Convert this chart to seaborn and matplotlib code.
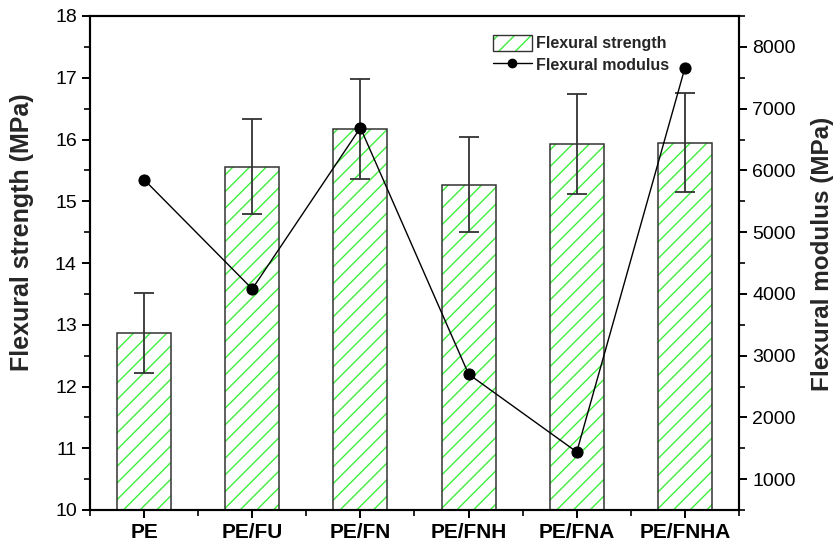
import numpy as np
import pandas as pd
import matplotlib
matplotlib.use("Agg")
import matplotlib.pyplot as plt
from matplotlib.ticker import FixedLocator, MultipleLocator
from matplotlib.patches import Patch
from matplotlib.lines import Line2D
import seaborn as sns

# Sample groups
samples = ["PE", "PE/FU", "PE/FN", "PE/FNH", "PE/FNA", "PE/FNHA"]

# Flexural strength (MPa) with standard deviation
strength = [12.87, 15.56, 16.17, 15.27, 15.93, 15.95]
strength_err = [0.65, 0.77, 0.81, 0.77, 0.81, 0.80]

# Flexural modulus (MPa)
modulus = [5850, 4080, 6690, 2700, 1440, 7660]

sns.set_theme(style="ticks")
plt.rcParams["font.family"] = ["Liberation Sans", "DejaVu Sans"]
plt.rcParams["hatch.linewidth"] = 1.0

fig = plt.figure(figsize=(8.4, 5.45), dpi=100)
ax = fig.add_axes([90 / 840, 1 - 510 / 545, 649 / 840, 494 / 545])

df = pd.DataFrame({"sample": samples, "strength": strength, "err": strength_err,
                   "modulus": modulus})
pos = np.arange(len(samples))

green = "#3cf03c"
outline = "#333333"

# hatched fill
sns.barplot(data=df, x="sample", y="strength", order=samples, color="white",
            edgecolor=green, linewidth=0, hatch="//", width=0.5,
            errorbar=None, ax=ax, zorder=2)
# outlines
ax.bar(pos, df["strength"], width=0.5, fill=False, edgecolor=outline,
       linewidth=1.1, zorder=3)
ax.errorbar(pos, df["strength"], yerr=df["err"], fmt="none", ecolor=outline,
            elinewidth=1.3, capsize=7, capthick=1.3, zorder=4)

ax.set_xlim(-0.5, 5.5)
ax.set_ylim(10, 18)
ax.set_xlabel("")
ax.set_ylabel("Flexural strength (MPa)", fontsize=18, fontweight="bold")
ax.yaxis.set_label_coords(-0.105, 0.563)
ax.yaxis.label.set_va("center")
ax.yaxis.set_major_locator(MultipleLocator(1))
ax.yaxis.set_minor_locator(MultipleLocator(0.5))
ax.xaxis.set_minor_locator(FixedLocator(np.arange(-0.5, 6.0, 1.0)))
ax.tick_params(axis="y", which="major", direction="out", length=6, width=1.4,
               labelsize=14, color="black", labelcolor="black")
ax.tick_params(axis="y", which="minor", direction="out", length=4, width=1.2,
               color="black")
ax.tick_params(axis="x", which="major", direction="out", length=6, width=1.4,
               labelsize=15, pad=3, color="black", labelcolor="black")
ax.tick_params(axis="x", which="minor", direction="out", length=4, width=1.2,
               color="black")
for lbl in ax.get_xticklabels():
    lbl.set_fontweight("bold")
for sp in ax.spines.values():
    sp.set_visible(True)
    sp.set_linewidth(1.5)
    sp.set_color("black")

# modulus on secondary axis
ax2 = ax.twinx()
sns.lineplot(x=pos, y=df["modulus"], ax=ax2, color="black", linewidth=1.0,
             marker="o", markersize=8, markeredgecolor="black", zorder=5)
ax2.set_ylim(500, 8500)
ax2.yaxis.set_major_locator(FixedLocator(np.arange(1000, 8001, 1000)))
ax2.yaxis.set_minor_locator(FixedLocator(np.arange(500, 8501, 500)))
ax2.set_ylabel("Flexural modulus (MPa)", fontsize=17.5, fontweight="bold")
ax2.yaxis.set_label_coords(1.128, 0.518)
ax2.yaxis.label.set_va("center")
ax2.tick_params(axis="y", which="major", direction="out", length=6, width=1.4,
                labelsize=14, color="black", labelcolor="black")
ax2.tick_params(axis="y", which="minor", direction="out", length=4, width=1.2,
                color="black")
for sp in ax2.spines.values():
    sp.set_linewidth(1.5)
    sp.set_color("black")

strength_handle = (
    Patch(facecolor="white", edgecolor=green, hatch="//", linewidth=0),
    Patch(facecolor="none", edgecolor=outline, linewidth=1.0),
)
modulus_handle = Line2D([], [], color="black", linewidth=1.0, marker="o",
                        markersize=6)
ax2.legend([strength_handle, modulus_handle],
           ["Flexural strength", "Flexural modulus"],
           loc="upper left", bbox_to_anchor=(0.603, 0.985), frameon=False,
           prop={"size": 11.5, "weight": "bold"}, handlelength=2.5,
           handleheight=1.25, handletextpad=0.25, labelspacing=0.3,
           borderaxespad=0.3)

fig.savefig("out.png", dpi=100)
